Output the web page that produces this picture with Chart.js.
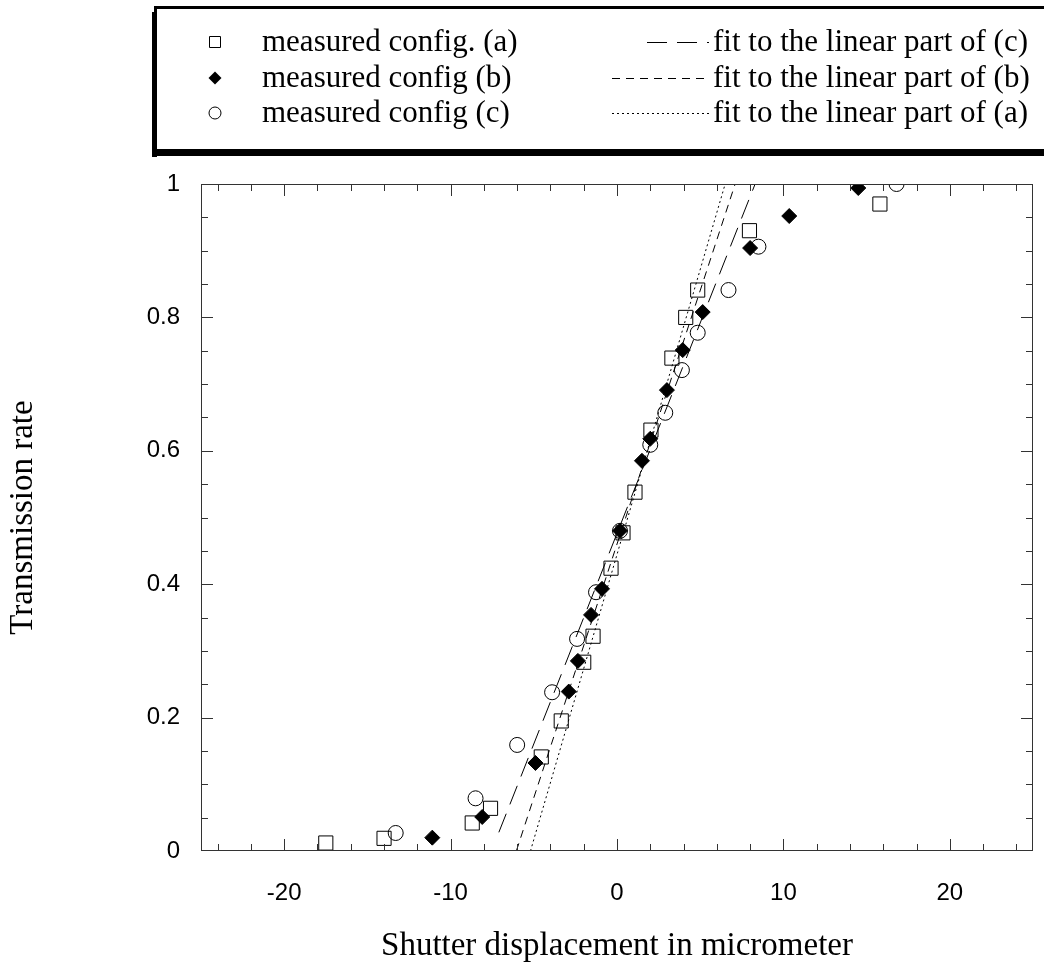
<!DOCTYPE html>
<html>
<head>
<meta charset="utf-8">
<script src="https://cdn.jsdelivr.net/npm/chart.js@4.4.1/dist/chart.umd.min.js"></script>
<style>
  html, body { margin: 0; padding: 0; background: #fff; overflow: hidden; }
  canvas { display: block; }
</style>
</head>
<body>
<canvas id="myChart" width="1044" height="967"></canvas>
<script>
// measured points, [displacement (um), transmission rate]
const configA = [[-17.5,0.012],[-14.0,0.019],[-8.7,0.042],[-7.6,0.064],[-4.55,0.141],[-3.35,0.195],
  [-2.0,0.283],[-1.44,0.322],[-0.36,0.424],[0.36,0.477],[1.08,0.538],[2.04,0.631],[3.3,0.739],
  [4.13,0.80],[4.85,0.841],[7.96,0.93],[15.8,0.97]];
const configB = [[-11.1,0.02],[-8.1,0.051],[-4.9,0.132],[-2.9,0.239],[-2.35,0.285],[-1.56,0.354],
  [-0.9,0.393],[0.18,0.48],[1.5,0.585],[2.0,0.618],[3.0,0.691],[3.95,0.751],[5.15,0.808],
  [8.0,0.904],[10.35,0.952],[14.5,0.994]];
const configC = [[-13.3,0.027],[-8.5,0.079],[-6.0,0.159],[-3.9,0.238],[-2.4,0.318],[-1.26,0.388],
  [0.18,0.48],[2.0,0.609],[2.9,0.657],[3.9,0.721],[4.85,0.777],[6.7,0.841],[8.5,0.906],[16.8,1.0]];
// linear fits (end points)
const fitC = [[-7.1,0.028],[8.3,1.0]];
const fitB = [[-6.05,0],[7.1,1.0]];
const fitA = [[-5.2,0],[6.5,1.0]];

// axis ticks: minor every 2 um / 0.05, labelled every 10 um / 0.2
const xTicks = [-24,-22,-20,-18,-16,-14,-12,-10,-8,-6,-4,-2,0,2,4,6,8,10,12,14,16,18,20,22,24];
const xLabels = [-20, -10, 0, 10, 20];
const yTicks = [0.05,0.1,0.15,0.2,0.25,0.3,0.35,0.4,0.45,0.5,0.55,0.6,0.65,0.7,0.75,0.8,0.85,0.9,0.95];
const yLabels = [0, 0.2, 0.4, 0.6, 0.8, 1];

const pointLabels = ['measured config. (a)', 'measured config (b)', 'measured config (c)'];
const fitLabels = ['fit to the linear part of (c)', 'fit to the linear part of (b)', 'fit to the linear part of (a)'];
const xTitle = 'Shutter displacement in micrometer';
const yTitle = 'Transmission rate';

function toXY(arr) {
  return arr.map(function (p) { return { x: p[0], y: p[1] }; });
}

// frame with inward ticks on all four sides
const frameTicks = {
  id: 'frameTicks',
  afterDraw(chart) {
    const ctx = chart.ctx;
    const a = chart.chartArea;
    const xs = chart.scales.x, ys = chart.scales.y;
    ctx.save();
    ctx.strokeStyle = '#333';
    ctx.lineWidth = 1;
    ctx.strokeRect(a.left + 0.5, a.top + 0.5, a.right - a.left - 1, a.bottom - a.top - 1);
    ctx.beginPath();
    xTicks.forEach(function (v) {
      const len = xLabels.indexOf(v) >= 0 ? 12 : 7;
      const px = Math.round(xs.getPixelForValue(v)) + 0.5;
      ctx.moveTo(px, a.bottom); ctx.lineTo(px, a.bottom - len);
      ctx.moveTo(px, a.top); ctx.lineTo(px, a.top + len);
    });
    yTicks.forEach(function (v) {
      const major = yLabels.some(function (l) { return Math.abs(l - v) < 1e-6; });
      const len = major ? 12 : 7;
      const py = Math.round(ys.getPixelForValue(v)) + 0.5;
      ctx.moveTo(a.left, py); ctx.lineTo(a.left + len, py);
      ctx.moveTo(a.right, py); ctx.lineTo(a.right - len, py);
    });
    ctx.stroke();
    ctx.restore();
  }
};

function drawMarker(ctx, style, x, y, r) {
  ctx.beginPath();
  if (style === 'rect') {
    ctx.rect(x - r, y - r, 2 * r, 2 * r);
    ctx.stroke();
  } else if (style === 'rectRot') {
    ctx.moveTo(x, y - r); ctx.lineTo(x + r, y); ctx.lineTo(x, y + r); ctx.lineTo(x - r, y);
    ctx.closePath();
    ctx.fill();
  } else {
    ctx.arc(x, y, r, 0, Math.PI * 2);
    ctx.stroke();
  }
}

// boxed legend with drop shadow above the plot
const boxLegend = {
  id: 'boxLegend',
  afterDraw(chart) {
    const ctx = chart.ctx;
    const ds = chart.data.datasets;
    ctx.save();
    // shadow
    ctx.fillStyle = '#000';
    ctx.fillRect(152, 12, 5, 145);
    ctx.fillRect(152, 149, 900, 7);
    // box
    ctx.fillStyle = '#fff';
    ctx.fillRect(157, 8, 900, 141);
    ctx.strokeStyle = '#000';
    ctx.lineWidth = 3;
    ctx.beginPath();
    ctx.moveTo(155.5, 149); ctx.lineTo(155.5, 7.5); ctx.lineTo(1050, 7.5);
    ctx.stroke();

    const rows = [42, 78, 113];
    ctx.font = '31px "Liberation Serif"';
    ctx.textBaseline = 'middle';
    ctx.fillStyle = '#000';
    ctx.lineWidth = 1;
    const pts = ds.filter(function (d) { return d.showLine === false; });
    pts.forEach(function (d, i) {
      const s = d.pointStyle;
      const r = s === 'rect' ? 5.5 : (s === 'rectRot' ? 6.5 : 6);
      drawMarker(ctx, s, 215, rows[i], r);
      ctx.fillText(d.label, 262, rows[i] + 1);
    });
    const fits = ds.filter(function (d) { return d.showLine !== false; });
    fits.forEach(function (d, i) {
      ctx.save();
      ctx.setLineDash(d.borderDash);
      ctx.beginPath();
      const x0 = i === 0 ? 647 : 612;
      ctx.moveTo(x0, rows[i] + 0.5); ctx.lineTo(709, rows[i] + 0.5);
      ctx.stroke();
      ctx.restore();
      ctx.fillText(d.label, 713, rows[i] + 1);
    });
    ctx.restore();
  }
};

const lineBase = { showLine: true, pointRadius: 0, borderColor: '#000', borderWidth: 1, fill: false };

const ctx1 = document.getElementById('myChart').getContext('2d');
const config = {
  type: 'scatter',
  data: {
    datasets: [
      Object.assign({ label: fitLabels[0], data: toXY(fitC), borderDash: [20, 10] }, lineBase),
      Object.assign({ label: fitLabels[1], data: toXY(fitB), borderDash: [8, 6] }, lineBase),
      Object.assign({ label: fitLabels[2], data: toXY(fitA), borderDash: [2, 3] }, lineBase),
      {
        label: pointLabels[0], data: toXY(configA), showLine: false,
        pointStyle: 'rect', pointRadius: 10, borderColor: '#000', borderWidth: 1,
        backgroundColor: 'rgba(0,0,0,0)'
      },
      {
        label: pointLabels[1], data: toXY(configB), showLine: false,
        pointStyle: 'rectRot', pointRadius: 7.5, borderColor: '#000', borderWidth: 1,
        backgroundColor: '#000'
      },
      {
        label: pointLabels[2], data: toXY(configC), showLine: false,
        pointStyle: 'circle', pointRadius: 7.5, borderColor: '#000', borderWidth: 1,
        backgroundColor: 'rgba(0,0,0,0)'
      }
    ]
  },
  options: {
    responsive: false,
    animation: false,
    layout: { padding: { top: 184, right: 8, left: 0, bottom: 0 } },
    plugins: {
      legend: { display: false },
      tooltip: { enabled: false }
    },
    scales: {
      x: {
        type: 'linear', min: -25, max: 25,
        grid: { display: false, drawTicks: false },
        border: { display: false },
        afterBuildTicks: function (s) { s.ticks = xLabels.map(function (v) { return { value: v }; }); },
        ticks: {
          autoSkip: false, maxRotation: 0, padding: 28,
          color: '#000', font: { family: 'Liberation Sans', size: 24 },
          callback: function (v) { return String(v); }
        },
        title: {
          display: true, text: xTitle, color: '#000',
          font: { family: 'Liberation Serif', size: 33 }, padding: { top: 0, bottom: 1 }
        },
        afterFit: function (s) { s.height = 116; s.paddingLeft = 0; s.paddingRight = 0; }
      },
      y: {
        type: 'linear', min: 0, max: 1,
        grid: { display: false, drawTicks: false },
        border: { display: false },
        afterBuildTicks: function (s) { s.ticks = yLabels.map(function (v) { return { value: v }; }); },
        ticks: {
          autoSkip: false, padding: 21,
          color: '#000', font: { family: 'Liberation Sans', size: 24 },
          callback: function (v) { return String(v); }
        },
        title: {
          display: true, text: yTitle, color: '#000',
          font: { family: 'Liberation Serif', size: 33 }, padding: { top: 4, bottom: 0 }
        },
        afterFit: function (s) { s.width = 201; s.paddingTop = 0; s.paddingBottom = 0; }
      }
    }
  },
  plugins: [frameTicks, boxLegend]
};
const myChart1 = new Chart(ctx1, config);
</script>
</body>
</html>
